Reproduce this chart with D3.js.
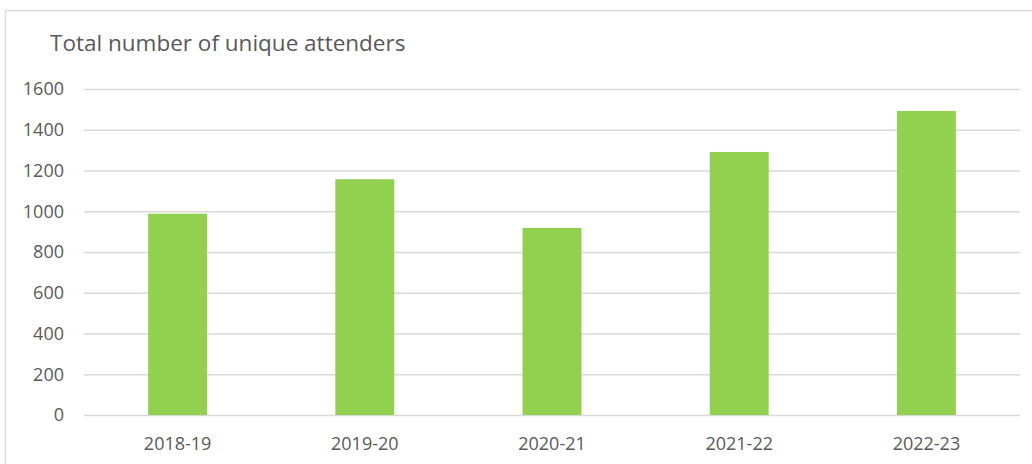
<!DOCTYPE html>
<html>
<head>
<meta charset="utf-8">
<script src="https://cdn.jsdelivr.net/npm/d3@7"></script>
<style>
  body { margin: 0; background: #fff; }
  svg text { font-family: "Open Sans", sans-serif; fill: #595959; }
</style>
</head>
<body>
<script>
// chart data
const seasons = ["2018-19", "2019-20", "2020-21", "2021-22", "2022-23"];
const attenders = [988, 1157, 918, 1291, 1492];
const yTicks = [0, 200, 400, 600, 800, 1000, 1200, 1400, 1600];

const width = 1032, height = 464;
const plot = { left: 84, right: 1020, top: 89, bottom: 415 };

const svg = d3.select("body").append("svg")
    .attr("width", width)
    .attr("height", height);

// outer chart border
svg.append("rect")
    .attr("x", 5.5).attr("y", 10.5)
    .attr("width", 1040).attr("height", 470)
    .attr("fill", "none")
    .attr("stroke", "#d9d9d9")
    .attr("stroke-width", 1.5);

let x = d3.scaleBand()
    .domain(seasons)
    .range([plot.left, plot.right])
    .paddingInner(0.685)
    .paddingOuter(0.3425);

let y = d3.scaleLinear()
    .domain([0, 1600])
    .range([plot.bottom, plot.top]);

// gridlines + y labels
let yAxis = svg.append("g")
    .attr("transform", "translate(" + plot.left + ",0)")
    .call(d3.axisLeft(y)
        .tickValues(yTicks)
        .tickFormat(d3.format("d"))
        .tickSize(-(plot.right - plot.left))
        .tickPadding(20));
yAxis.select(".domain").remove();
yAxis.selectAll(".tick line").attr("stroke", "#d9d9d9").attr("stroke-width", 1.5);
yAxis.selectAll(".tick text")
    .attr("font-size", 18)
    .attr("fill", "#595959");

// bars
svg.selectAll("rect.bar")
    .data(attenders)
    .join("rect")
    .classed("bar", true)
    .attr("x", (d, i) => x(seasons[i]))
    .attr("y", d => y(d))
    .attr("width", x.bandwidth())
    .attr("height", d => y(0) - y(d))
    .attr("fill", "#92d050");

// x labels
let xAxis = svg.append("g")
    .attr("transform", "translate(0," + plot.bottom + ")")
    .call(d3.axisBottom(x).tickSize(0).tickPadding(22));
xAxis.select(".domain").remove();
xAxis.selectAll(".tick text")
    .attr("font-size", 18)
    .attr("fill", "#595959");

// title
svg.append("text")
    .attr("x", 50)
    .attr("y", 51)
    .attr("font-size", 22.5)
    .text("Total number of unique attenders");
</script>
</body>
</html>
